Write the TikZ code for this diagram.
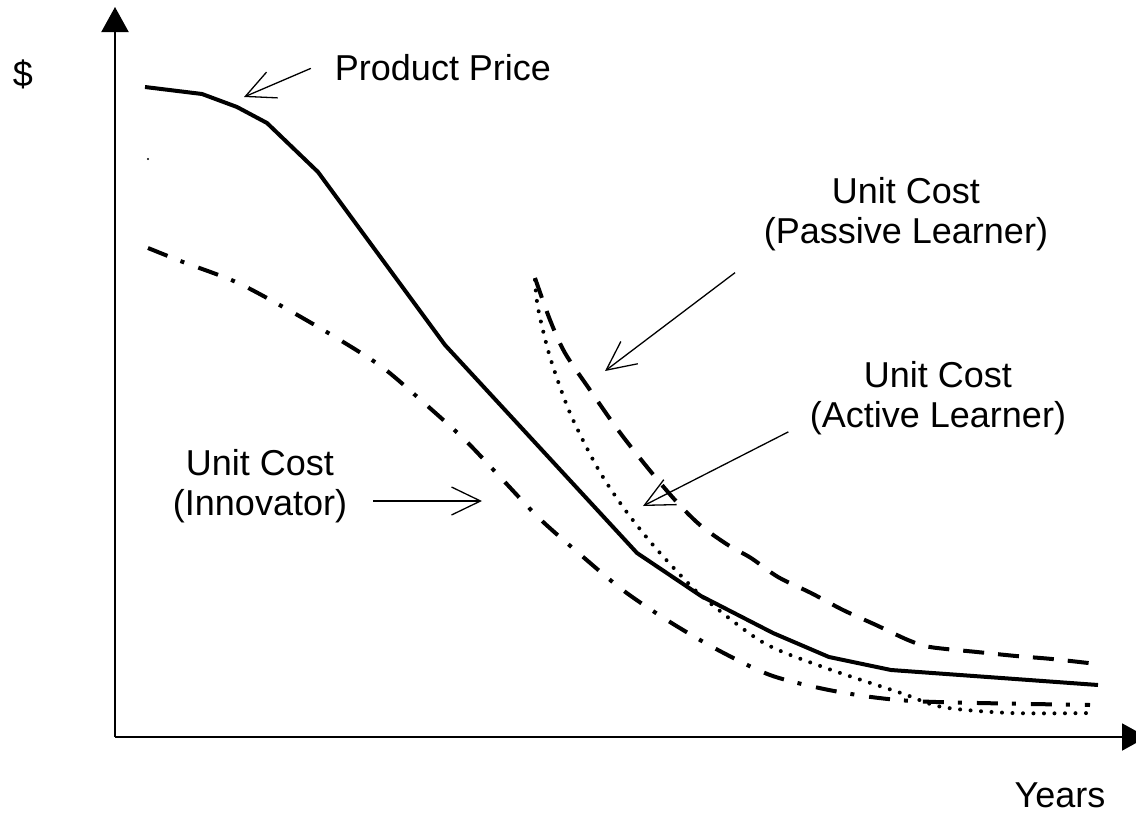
\documentclass[tikz,border=0pt]{standalone}
\usepackage{fontspec}
\setmainfont{Liberation Sans}
\usetikzlibrary{arrows.meta}
\tikzset{>={Triangle[length=25pt,width=27pt]}}
\tikzset{pointer/.style={-{Straight Barb[length=29pt,width=28pt]}, line width=1.3pt}}
\tikzset{curvename/.style={font=\fontsize{36}{40}\selectfont, inner sep=0pt}}
\tikzset{price/.style={line width=4pt}}
\tikzset{innovator/.style={line width=4pt, dash pattern=on 21pt off 14pt on 4pt off 15pt}}
\tikzset{passive/.style={line width=4pt, dash pattern=on 21pt off 14pt}}
\tikzset{active/.style={line width=4pt, line cap=round, dash pattern=on 0pt off 10.5pt}}

\begin{document}
\begin{tikzpicture}[x=1pt, y=-1pt, line join=round]
\useasboundingbox (0,0) rectangle (1136,814);

\coordinate (origin) at (115,737);
\coordinate (ytop) at (115,7);
\coordinate (xend) at (1147,737);
\draw[->, line width=2pt] (origin) -- (ytop);
\draw[->, line width=2pt] (origin) -- (xend);
\node[curvename, anchor=base] (dollar) at (23,86) {\$};
\node[curvename, anchor=base] (years) at (1060,807) {Years};
\fill (148,159) circle (1.2pt);

\draw[price] (145,87) -- (202,94) -- (237,107) -- (267,123) -- (318,172) -- (445,345)
  -- (637,553) -- (701,596) -- (773,633) -- (829,657) -- (891,670) -- (1098,685);
\draw[innovator] plot[smooth, tension=0.5] coordinates {(148,248) (183,262) (236,282)
  (285,308) (335,337) (382,367) (423,402) (465,440) (502,479) (540,519) (582,556)
  (624,591) (670,622) (718,650) (770,675) (824,689) (879,698) (936,702) (1090,705)};
\draw[passive] plot[smooth, tension=0.5] coordinates {(535,278) (550,320) (565,353)
  (590,390) (618,430) (647,467) (675,500) (700,525) (728,545) (751,558) (778,577)
  (811,593) (843,610) (876,625) (908,640) (930,647) (977,652) (1016,656) (1052,659)
  (1097,664)};
\draw[active] plot[smooth, tension=0.5] coordinates {(535,280) (538,308) (550,357)
  (570,413) (597,467) (623,507) (653,545) (687,582) (710,603) (764,643) (823,667)
  (901,693) (942,707) (1011,713) (1095,713)};

\node[curvename, anchor=base] (price) at (443,80) {Product Price};
\node[curvename, align=center, anchor=north] (passive) at (906,177) {Unit Cost\\(Passive Learner)};
\node[curvename, align=center, anchor=north] (active) at (938,361) {Unit Cost\\(Active Learner)};
\node[curvename, align=center, anchor=north] (innov) at (260,449) {Unit Cost\\(Innovator)};

\coordinate (pricetip) at (244,97);
\coordinate (passivetip) at (605,371);
\coordinate (activetip) at (643,506);
\coordinate (innovtip) at (482,501);
\draw[pointer, shorten <=26pt] ([yshift=9pt]price.west) -- (pricetip);
\draw[pointer, shorten <=36pt] (passive.south west) -- (passivetip);
\draw[pointer, shorten <=24pt] ([yshift=14pt]active.south west) -- (activetip);
\draw[pointer, shorten <=26pt] (innov.east |- innovtip) -- (innovtip);
\end{tikzpicture}
\end{document}
